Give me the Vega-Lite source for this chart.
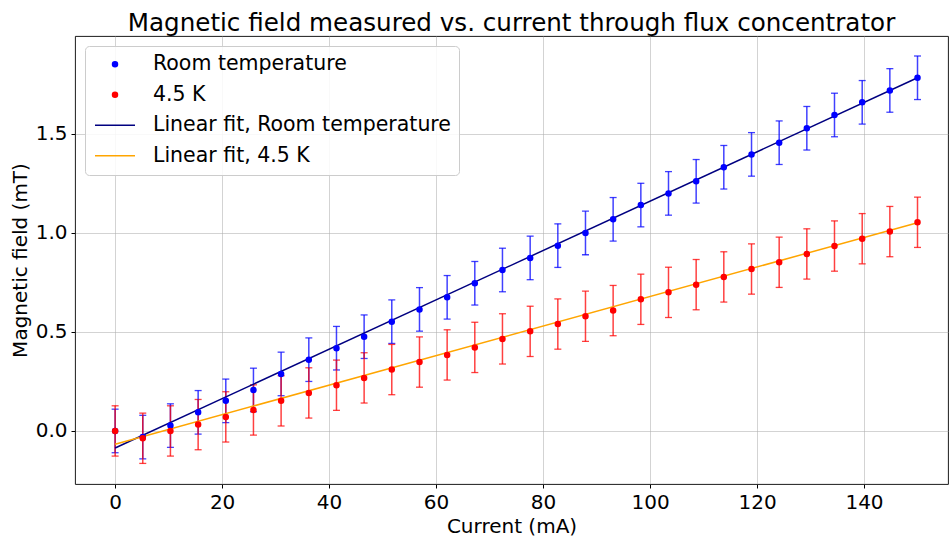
{
  "$schema": "https://vega.github.io/schema/vega-lite/v6.json",
  "autosize": "none",
  "width": 873,
  "height": 448,
  "padding": {"left": 75, "top": 36, "right": 2, "bottom": 52},
  "background": "white",
  "title": {"text": "Magnetic field measured vs. current through flux concentrator", "font": "DejaVu Sans", "fontSize": 24.6, "fontWeight": "normal", "color": "#000", "offset": -1, "anchor": "middle"},
  "config": {
    "view": {"stroke": "#000", "strokeWidth": 0.9},
    "axis": {"labelFont": "DejaVu Sans", "titleFont": "DejaVu Sans", "labelFontSize": 20, "titleFontSize": 20, "titleFontWeight": "normal", "labelColor": "#000", "titleColor": "#000", "domain": false, "tickColor": "#000", "tickSize": 4, "gridColor": "#b0b0b0", "gridOpacity": 0.7, "gridWidth": 0.8, "labelPadding": 4},
    "legend": {"orient": "top-left", "offset": 10, "labelFont": "DejaVu Sans", "labelFontSize": 20.5, "labelColor": "#000", "labelLimit": 0, "padding": 8, "rowPadding": 9.5, "labelOffset": 27.75, "symbolOffset": 11.75, "fillColor": "rgba(255,255,255,0.85)", "strokeColor": "#cccccc", "cornerRadius": 4, "symbolStrokeWidth": 1.5}
  },
  "datasets": {
    "meas": [
      {"current": 0, "series": "Room temperature", "B": 0.0, "err": 0.11},
      {"current": 5.17, "series": "Room temperature", "B": -0.031, "err": 0.11},
      {"current": 10.34, "series": "Room temperature", "B": 0.027, "err": 0.11},
      {"current": 15.52, "series": "Room temperature", "B": 0.094, "err": 0.11},
      {"current": 20.69, "series": "Room temperature", "B": 0.152, "err": 0.11},
      {"current": 25.86, "series": "Room temperature", "B": 0.207, "err": 0.11},
      {"current": 31.03, "series": "Room temperature", "B": 0.288, "err": 0.11},
      {"current": 36.21, "series": "Room temperature", "B": 0.36, "err": 0.11},
      {"current": 41.38, "series": "Room temperature", "B": 0.418, "err": 0.11},
      {"current": 46.55, "series": "Room temperature", "B": 0.476, "err": 0.11},
      {"current": 51.72, "series": "Room temperature", "B": 0.552, "err": 0.11},
      {"current": 56.9, "series": "Room temperature", "B": 0.614, "err": 0.11},
      {"current": 62.07, "series": "Room temperature", "B": 0.675, "err": 0.11},
      {"current": 67.24, "series": "Room temperature", "B": 0.746, "err": 0.11},
      {"current": 72.41, "series": "Room temperature", "B": 0.813, "err": 0.11},
      {"current": 77.59, "series": "Room temperature", "B": 0.874, "err": 0.11},
      {"current": 82.76, "series": "Room temperature", "B": 0.936, "err": 0.11},
      {"current": 87.93, "series": "Room temperature", "B": 1.0, "err": 0.11},
      {"current": 93.1, "series": "Room temperature", "B": 1.069, "err": 0.11},
      {"current": 98.28, "series": "Room temperature", "B": 1.141, "err": 0.11},
      {"current": 103.45, "series": "Room temperature", "B": 1.2, "err": 0.11},
      {"current": 108.62, "series": "Room temperature", "B": 1.261, "err": 0.11},
      {"current": 113.79, "series": "Room temperature", "B": 1.332, "err": 0.11},
      {"current": 118.97, "series": "Room temperature", "B": 1.397, "err": 0.11},
      {"current": 124.14, "series": "Room temperature", "B": 1.456, "err": 0.11},
      {"current": 129.31, "series": "Room temperature", "B": 1.529, "err": 0.11},
      {"current": 134.48, "series": "Room temperature", "B": 1.596, "err": 0.11},
      {"current": 139.66, "series": "Room temperature", "B": 1.66, "err": 0.11},
      {"current": 144.83, "series": "Room temperature", "B": 1.72, "err": 0.11},
      {"current": 150, "series": "Room temperature", "B": 1.784, "err": 0.11},
      {"current": 0, "series": "4.5 K", "B": 0.0, "err": 0.127},
      {"current": 5.17, "series": "4.5 K", "B": -0.037, "err": 0.127},
      {"current": 10.34, "series": "4.5 K", "B": 0.0, "err": 0.127},
      {"current": 15.52, "series": "4.5 K", "B": 0.032, "err": 0.127},
      {"current": 20.69, "series": "4.5 K", "B": 0.071, "err": 0.127},
      {"current": 25.86, "series": "4.5 K", "B": 0.106, "err": 0.127},
      {"current": 31.03, "series": "4.5 K", "B": 0.152, "err": 0.127},
      {"current": 36.21, "series": "4.5 K", "B": 0.192, "err": 0.127},
      {"current": 41.38, "series": "4.5 K", "B": 0.231, "err": 0.127},
      {"current": 46.55, "series": "4.5 K", "B": 0.268, "err": 0.127},
      {"current": 51.72, "series": "4.5 K", "B": 0.31, "err": 0.127},
      {"current": 56.9, "series": "4.5 K", "B": 0.348, "err": 0.127},
      {"current": 62.07, "series": "4.5 K", "B": 0.384, "err": 0.127},
      {"current": 67.24, "series": "4.5 K", "B": 0.422, "err": 0.127},
      {"current": 72.41, "series": "4.5 K", "B": 0.465, "err": 0.127},
      {"current": 77.59, "series": "4.5 K", "B": 0.503, "err": 0.127},
      {"current": 82.76, "series": "4.5 K", "B": 0.54, "err": 0.127},
      {"current": 87.93, "series": "4.5 K", "B": 0.579, "err": 0.127},
      {"current": 93.1, "series": "4.5 K", "B": 0.608, "err": 0.127},
      {"current": 98.28, "series": "4.5 K", "B": 0.665, "err": 0.127},
      {"current": 103.45, "series": "4.5 K", "B": 0.70, "err": 0.127},
      {"current": 108.62, "series": "4.5 K", "B": 0.739, "err": 0.127},
      {"current": 113.79, "series": "4.5 K", "B": 0.778, "err": 0.127},
      {"current": 118.97, "series": "4.5 K", "B": 0.818, "err": 0.127},
      {"current": 124.14, "series": "4.5 K", "B": 0.852, "err": 0.127},
      {"current": 129.31, "series": "4.5 K", "B": 0.894, "err": 0.127},
      {"current": 134.48, "series": "4.5 K", "B": 0.934, "err": 0.127},
      {"current": 139.66, "series": "4.5 K", "B": 0.971, "err": 0.127},
      {"current": 144.83, "series": "4.5 K", "B": 1.007, "err": 0.127},
      {"current": 150, "series": "4.5 K", "B": 1.054, "err": 0.127}
    ],
    "fits": [
      {"current": 0, "series": "Linear fit, Room temperature", "B": -0.086},
      {"current": 150, "series": "Linear fit, Room temperature", "B": 1.784},
      {"current": 0, "series": "Linear fit, 4.5 K", "B": -0.067},
      {"current": 150, "series": "Linear fit, 4.5 K", "B": 1.052}
    ]
  },
  "resolve": {"legend": {"color": "independent", "fill": "independent", "stroke": "independent", "shape": "independent", "size": "independent"}},
  "encoding": {
    "x": {"field": "current", "type": "quantitative", "scale": {"domain": [-7.5, 155.7], "nice": false, "zero": false}, "axis": {"title": "Current (mA)", "values": [0, 20, 40, 60, 80, 100, 120, 140], "titlePadding": 4}},
    "y": {"field": "B", "type": "quantitative", "scale": {"domain": [-0.268, 1.995], "nice": false, "zero": false}, "axis": {"title": "Magnetic field (mT)", "values": [0, 0.5, 1.0, 1.5], "format": ".1f", "titlePadding": 5}}
  },
  "layer": [
    {
      "data": {"name": "meas"},
      "mark": {"type": "errorbar", "ticks": {"size": 7, "thickness": 1.3}, "rule": {"strokeWidth": 1.5}, "opacity": 0.75},
      "encoding": {
        "yError": {"field": "err"},
        "color": {"field": "series", "type": "nominal", "legend": null, "scale": {"domain": ["Room temperature", "4.5 K", "Linear fit, Room temperature", "Linear fit, 4.5 K"], "range": ["#0000ff", "#ff0000", "#000080", "#ffa500"]}}
      }
    },
    {
      "data": {"name": "fits"},
      "mark": {"type": "line", "strokeWidth": 1.5},
      "encoding": {
        "color": {"field": "series", "type": "nominal", "legend": null}
      }
    },
    {
      "data": {"name": "meas"},
      "mark": {"type": "point", "filled": false, "opacity": 1, "strokeWidth": 1.5, "fillOpacity": 1, "strokeOpacity": 1},
      "encoding": {
        "fill": {"field": "series", "type": "nominal", "title": null, "scale": {"domain": ["Room temperature", "4.5 K", "Linear fit, Room temperature", "Linear fit, 4.5 K"], "range": ["#0000ff", "#ff0000", "#000080", "#ffa500"]}},
        "stroke": {"field": "series", "type": "nominal", "title": null, "scale": {"domain": ["Room temperature", "4.5 K", "Linear fit, Room temperature", "Linear fit, 4.5 K"], "range": ["#0000ff", "#ff0000", "#000080", "#ffa500"]}},
        "shape": {"field": "series", "type": "nominal", "title": null, "scale": {"domain": ["Room temperature", "4.5 K", "Linear fit, Room temperature", "Linear fit, 4.5 K"], "range": ["circle", "circle", "M-8,0H8", "M-8,0H8"]}},
        "size": {"field": "series", "type": "nominal", "title": null, "scale": {"domain": ["Room temperature", "4.5 K", "Linear fit, Room temperature", "Linear fit, 4.5 K"], "range": [25, 25, 110, 110]}}
      }
    }
  ]
}
